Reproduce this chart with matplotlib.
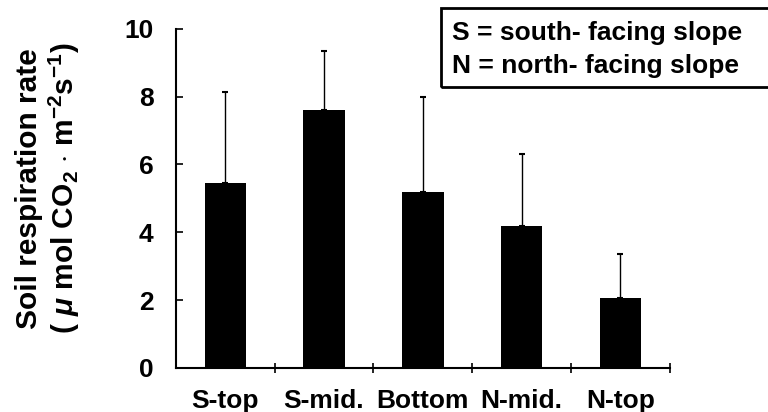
import numpy as np
import matplotlib
matplotlib.use("Agg")
import matplotlib.pyplot as plt
from matplotlib.patches import Rectangle

plt.rcParams['font.family'] = ['Liberation Sans', 'DejaVu Sans']
plt.rcParams['font.weight'] = 'bold'
plt.rcParams['mathtext.fontset'] = 'custom'
plt.rcParams['mathtext.rm'] = 'Liberation Sans:bold'
plt.rcParams['mathtext.bf'] = 'Liberation Sans:bold'
plt.rcParams['mathtext.it'] = 'Liberation Sans:italic:bold'

# data
sites = ['S-top', 'S-mid.', 'Bottom', 'N-mid.', 'N-top']
resp_mean = [5.45, 7.62, 5.2, 4.2, 2.05]
resp_upper = [8.15, 9.34, 7.98, 6.32, 3.35]   # top of the error bars
yticks = [0, 2, 4, 6, 8, 10]
legend_lines = ['S = south- facing slope', 'N = north- facing slope']

err_up = np.array(resp_upper) - np.array(resp_mean)
x = np.arange(len(sites))

fig = plt.figure(figsize=(7.68, 4.12), dpi=100)
ax = fig.add_axes([0.229, 0.107, 0.643, 0.823])

ax.bar(x, resp_mean, width=0.42, color='black', zorder=2)
ax.errorbar(x, resp_mean, yerr=[np.zeros(len(x)), err_up], fmt='none',
            ecolor='black', elinewidth=1.0, capsize=2.5, capthick=1.5, zorder=1)

ax.set_xlim(-0.5, len(sites) - 0.5)
ax.set_ylim(0, 10)
ax.spines['top'].set_visible(False)
ax.spines['right'].set_visible(False)
ax.spines['left'].set_linewidth(1.5)
ax.spines['bottom'].set_linewidth(1.5)

ax.set_yticks(yticks)
ax.set_yticklabels([str(t) for t in yticks])
ax.tick_params(axis='y', direction='in', length=5, width=1.2, pad=16, labelsize=19)

ax.set_xticks(x)
ax.set_xticklabels(sites)
ax.set_xticks(x + 0.5, minor=True)
ax.tick_params(axis='x', which='major', length=0, pad=15, labelsize=19)
ax.tick_params(axis='x', which='minor', direction='inout', length=7, width=1.2)

ax.set_ylabel('Soil respiration rate\n'
              r'( $\mathit{\mu}$ mol CO$_2$ $\cdot$ m$^{-2}$s$^{-1}$)',
              fontsize=21.5, fontweight='bold', linespacing=1.15)
ax.yaxis.set_label_coords(-0.19, 0.53)

# legend box
fig.patches.append(Rectangle((0.574, 0.79), 0.45, 0.19, transform=fig.transFigure,
                             fill=False, edgecolor='black', linewidth=2))
fig.text(0.589, 0.92, legend_lines[0], fontsize=19, fontweight='bold', va='center')
fig.text(0.589, 0.84, legend_lines[1], fontsize=19, fontweight='bold', va='center')

fig.savefig('out.png', dpi=100)
